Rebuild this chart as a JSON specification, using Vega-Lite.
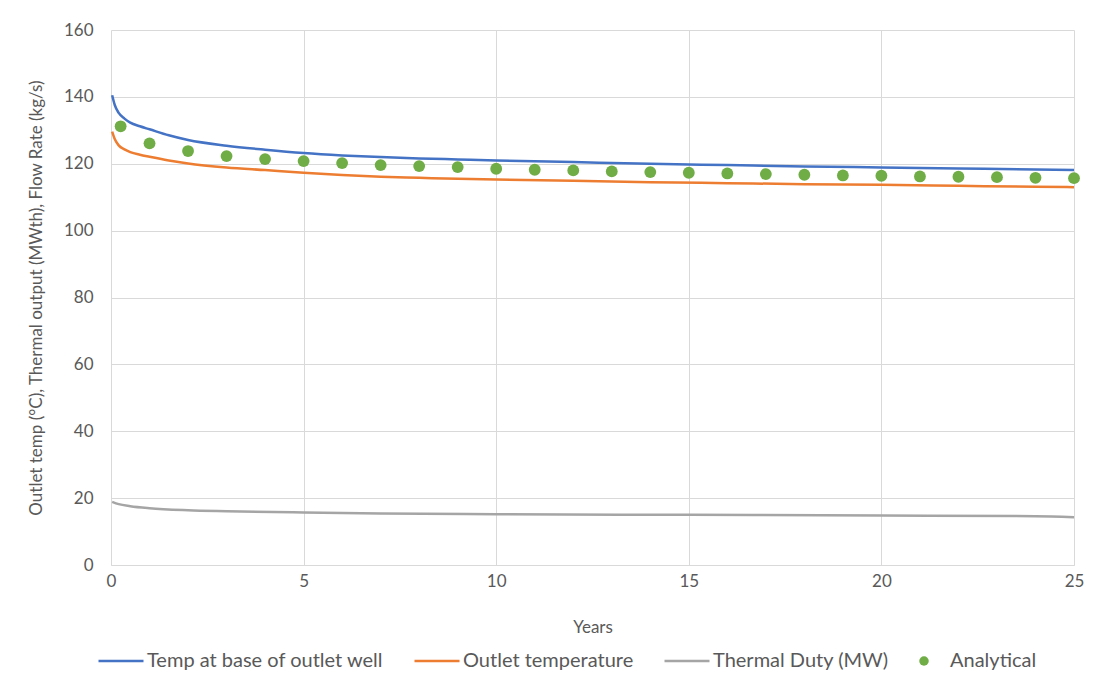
{
  "$schema": "https://vega.github.io/schema/vega-lite/v6.json",
  "width": 963,
  "height": 535,
  "autosize": "none",
  "padding": {"left": 111, "top": 30, "right": 21, "bottom": 124},
  "background": "white",
  "config": {
    "font": "Lato",
    "view": {"stroke": null},
    "axis": {"labelColor": "#595959", "titleColor": "#595959", "labelFontSize": 17, "titleFontSize": 17, "titleFontWeight": "normal", "gridColor": "#d9d9d9", "gridWidth": 1, "tickSize": 0, "labelFont": "Lato", "titleFont": "Lato"},
    "legend": {"labelColor": "#595959", "labelFontSize": 20, "labelFont": "Lato", "labelLimit": 400}
  },
  "datasets": {
    "lines": [
      {"series": "Temp at base of outlet well", "year": 0.03, "value": 140.5},
      {"series": "Temp at base of outlet well", "year": 0.1, "value": 137.5},
      {"series": "Temp at base of outlet well", "year": 0.2, "value": 135.2},
      {"series": "Temp at base of outlet well", "year": 0.35, "value": 133.5},
      {"series": "Temp at base of outlet well", "year": 0.5, "value": 132.3},
      {"series": "Temp at base of outlet well", "year": 0.75, "value": 131.2},
      {"series": "Temp at base of outlet well", "year": 1, "value": 130.3},
      {"series": "Temp at base of outlet well", "year": 1.5, "value": 128.5},
      {"series": "Temp at base of outlet well", "year": 2, "value": 127.1},
      {"series": "Temp at base of outlet well", "year": 3, "value": 125.4},
      {"series": "Temp at base of outlet well", "year": 4, "value": 124.2},
      {"series": "Temp at base of outlet well", "year": 5, "value": 123.2},
      {"series": "Temp at base of outlet well", "year": 6, "value": 122.5},
      {"series": "Temp at base of outlet well", "year": 7, "value": 122.0},
      {"series": "Temp at base of outlet well", "year": 8, "value": 121.6},
      {"series": "Temp at base of outlet well", "year": 9, "value": 121.3},
      {"series": "Temp at base of outlet well", "year": 10, "value": 121.0},
      {"series": "Temp at base of outlet well", "year": 12, "value": 120.5},
      {"series": "Temp at base of outlet well", "year": 14, "value": 120.0},
      {"series": "Temp at base of outlet well", "year": 16, "value": 119.6},
      {"series": "Temp at base of outlet well", "year": 18, "value": 119.2},
      {"series": "Temp at base of outlet well", "year": 20, "value": 118.9},
      {"series": "Temp at base of outlet well", "year": 22, "value": 118.6},
      {"series": "Temp at base of outlet well", "year": 24, "value": 118.3},
      {"series": "Temp at base of outlet well", "year": 25, "value": 118.1},
      {"series": "Outlet temperature", "year": 0.03, "value": 129.6},
      {"series": "Outlet temperature", "year": 0.1, "value": 127.3},
      {"series": "Outlet temperature", "year": 0.2, "value": 125.5},
      {"series": "Outlet temperature", "year": 0.35, "value": 124.3},
      {"series": "Outlet temperature", "year": 0.5, "value": 123.5},
      {"series": "Outlet temperature", "year": 0.75, "value": 122.7},
      {"series": "Outlet temperature", "year": 1, "value": 122.1},
      {"series": "Outlet temperature", "year": 1.5, "value": 121.0},
      {"series": "Outlet temperature", "year": 2, "value": 120.1},
      {"series": "Outlet temperature", "year": 3, "value": 118.9},
      {"series": "Outlet temperature", "year": 4, "value": 118.1},
      {"series": "Outlet temperature", "year": 5, "value": 117.3},
      {"series": "Outlet temperature", "year": 6, "value": 116.6},
      {"series": "Outlet temperature", "year": 7, "value": 116.1},
      {"series": "Outlet temperature", "year": 8, "value": 115.8},
      {"series": "Outlet temperature", "year": 9, "value": 115.5},
      {"series": "Outlet temperature", "year": 10, "value": 115.3},
      {"series": "Outlet temperature", "year": 12, "value": 114.9},
      {"series": "Outlet temperature", "year": 14, "value": 114.5},
      {"series": "Outlet temperature", "year": 16, "value": 114.2},
      {"series": "Outlet temperature", "year": 18, "value": 113.9},
      {"series": "Outlet temperature", "year": 20, "value": 113.7},
      {"series": "Outlet temperature", "year": 22, "value": 113.4},
      {"series": "Outlet temperature", "year": 24, "value": 113.1},
      {"series": "Outlet temperature", "year": 25, "value": 113.0},
      {"series": "Thermal Duty (MW)", "year": 0.03, "value": 18.9},
      {"series": "Thermal Duty (MW)", "year": 0.2, "value": 18.2},
      {"series": "Thermal Duty (MW)", "year": 0.5, "value": 17.6},
      {"series": "Thermal Duty (MW)", "year": 1, "value": 17.0},
      {"series": "Thermal Duty (MW)", "year": 2, "value": 16.4},
      {"series": "Thermal Duty (MW)", "year": 3, "value": 16.1},
      {"series": "Thermal Duty (MW)", "year": 5, "value": 15.7},
      {"series": "Thermal Duty (MW)", "year": 7, "value": 15.4},
      {"series": "Thermal Duty (MW)", "year": 10, "value": 15.2},
      {"series": "Thermal Duty (MW)", "year": 15, "value": 15.0},
      {"series": "Thermal Duty (MW)", "year": 20, "value": 14.8},
      {"series": "Thermal Duty (MW)", "year": 24, "value": 14.6},
      {"series": "Thermal Duty (MW)", "year": 25, "value": 14.3}
    ],
    "points": [
      {"series": "Analytical", "year": 0.25, "value": 131.2},
      {"series": "Analytical", "year": 1, "value": 126.1},
      {"series": "Analytical", "year": 2, "value": 123.8},
      {"series": "Analytical", "year": 3, "value": 122.3},
      {"series": "Analytical", "year": 4, "value": 121.4},
      {"series": "Analytical", "year": 5, "value": 120.8},
      {"series": "Analytical", "year": 6, "value": 120.2},
      {"series": "Analytical", "year": 7, "value": 119.6},
      {"series": "Analytical", "year": 8, "value": 119.3},
      {"series": "Analytical", "year": 9, "value": 119.0},
      {"series": "Analytical", "year": 10, "value": 118.5},
      {"series": "Analytical", "year": 11, "value": 118.2},
      {"series": "Analytical", "year": 12, "value": 118.0},
      {"series": "Analytical", "year": 13, "value": 117.7},
      {"series": "Analytical", "year": 14, "value": 117.5},
      {"series": "Analytical", "year": 15, "value": 117.3},
      {"series": "Analytical", "year": 16, "value": 117.1},
      {"series": "Analytical", "year": 17, "value": 116.9},
      {"series": "Analytical", "year": 18, "value": 116.7},
      {"series": "Analytical", "year": 19, "value": 116.5},
      {"series": "Analytical", "year": 20, "value": 116.4},
      {"series": "Analytical", "year": 21, "value": 116.2},
      {"series": "Analytical", "year": 22, "value": 116.1},
      {"series": "Analytical", "year": 23, "value": 116.0},
      {"series": "Analytical", "year": 24, "value": 115.8},
      {"series": "Analytical", "year": 25, "value": 115.7}
    ]
  },
  "encoding": {
    "x": {"field": "year", "type": "quantitative", "scale": {"domain": [0, 25], "nice": false}, "axis": {"title": "Years", "values": [0, 5, 10, 15, 20, 25], "domainColor": "#d9d9d9", "labelFlush": false, "labelPadding": 8, "titlePadding": 30}},
    "y": {"field": "value", "type": "quantitative", "scale": {"domain": [0, 160], "nice": false}, "axis": {"title": "Outlet temp (°C), Thermal output (MWth), Flow Rate (kg/s)", "values": [0, 20, 40, 60, 80, 100, 120, 140, 160], "domain": false, "labelPadding": 18, "titlePadding": 18}},
    "color": {"field": "series", "type": "nominal", "scale": {"domain": ["Temp at base of outlet well", "Outlet temperature", "Thermal Duty (MW)", "Analytical"], "range": ["#4472C4", "#ED7D31", "#A5A5A5", "#70AD47"]}, "legend": {"title": null, "orient": "bottom", "direction": "horizontal", "columnPadding": 25, "labelOffset": 16, "offset": 16, "symbolSize": 1600, "symbolStrokeWidth": 2.5,
      "encode": {"symbols": {"update": {
        "shape": {"signal": "datum.value === 'Analytical' ? 'circle' : 'stroke'"},
        "size": {"signal": "datum.value === 'Analytical' ? 90 : 2025"},
        "fill": {"signal": "datum.value === 'Analytical' ? '#70AD47' : 'transparent'"},
        "strokeWidth": {"signal": "datum.value === 'Analytical' ? 0 : 2.5"},
        "opacity": {"value": 1}
      }}}}}
  },
  "layer": [
    {
      "data": {"name": "lines"},
      "mark": {"type": "line", "strokeWidth": 2.5, "interpolate": "monotone"}
    },
    {
      "data": {"name": "points"},
      "mark": {"type": "circle", "size": 140, "opacity": 1}
    }
  ]
}
